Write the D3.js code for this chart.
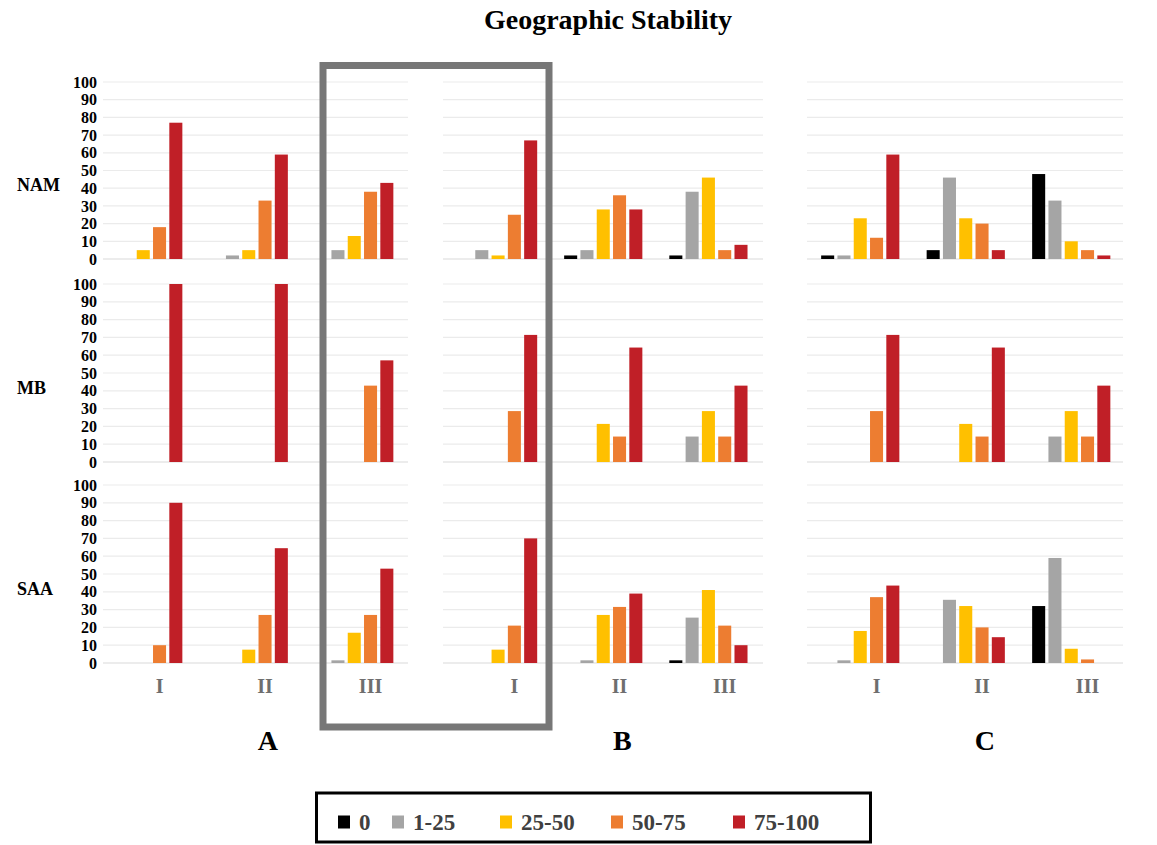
<!DOCTYPE html>
<html>
<head>
<meta charset="utf-8">
<script src="https://cdn.jsdelivr.net/npm/d3@7"></script>
<style>
  body { margin: 0; background: #fff; }
  text { font-family: "Liberation Serif", "Times New Roman", serif; font-weight: bold; }
</style>
</head>
<body>
<div id="chart"></div>
<script>
// categories
const rowNames = ["NAM", "MB", "SAA"];
const panelNames = ["A", "B", "C"];
const periods = ["I", "II", "III"];
const classes = ["0", "1-25", "25-50", "50-75", "75-100"];
const yTicks = [0, 10, 20, 30, 40, 50, 60, 70, 80, 90, 100];

// values: 9 groups per row (A-I, A-II, A-III, B-I ... C-III), one value per class
const valuesNAM = [
  [0, 0, 5, 18, 77], [0, 2, 5, 33, 59], [0, 5, 13, 38, 43],
  [0, 5, 2, 25, 67], [2, 5, 28, 36, 28], [2, 38, 46, 5, 8],
  [2, 2, 23, 12, 59], [5, 46, 23, 20, 5], [48, 33, 10, 5, 2]
];
const valuesMB = [
  [0, 0, 0, 0, 100], [0, 0, 0, 0, 100], [0, 0, 0, 42.9, 57.1],
  [0, 0, 0, 28.6, 71.4], [0, 0, 21.4, 14.3, 64.3], [0, 14.3, 28.6, 14.3, 42.9],
  [0, 0, 0, 28.6, 71.4], [0, 0, 21.4, 14.3, 64.3], [0, 14.3, 28.6, 14.3, 42.9]
];
const valuesSAA = [
  [0, 0, 0, 10, 90], [0, 0, 7.5, 27, 64.5], [0, 1.5, 17, 27, 53],
  [0, 0, 7.5, 21, 70], [0, 1.5, 27, 31.5, 39], [1.5, 25.5, 41, 21, 10],
  [0, 1.5, 18, 37, 43.5], [0, 35.5, 32, 20, 14.5], [32, 59, 8, 2, 0]
];
const rowValues = [valuesNAM, valuesMB, valuesSAA];

const colors = ["#000000", "#a5a5a5", "#ffc000", "#ed7d31", "#c01f27"];

// layout
const width = 1157, height = 845;
const rowRanges = [[259, 82], [462, 284], [663, 485]];
const panelRanges = [[90.5, 407], [445.5, 761], [807.5, 1124]];
const gridRanges = [[103, 408], [443, 763], [807, 1123]];
const legendX = [338, 392, 500, 611, 733];

const svg = d3.select("#chart")
    .append("svg")
    .attr("width", width)
    .attr("height", height);

svg.append("text")
    .attr("x", 608)
    .attr("y", 29)
    .attr("text-anchor", "middle")
    .style("font-size", "28px")
    .text("Geographic Stability");

const color = d3.scaleOrdinal().domain(classes).range(colors);

const xPanels = panelRanges.map(r => d3.scaleBand().domain(periods).range(r));
const xInner = d3.scaleBand()
    .domain(classes)
    .range([-39.1, 39.1])
    .paddingInner(0.2);

rowNames.forEach(function(row, ri) {
    const y = d3.scaleLinear().domain([0, 100]).range(rowRanges[ri]);
    const g = svg.append("g");

    // gridlines
    gridRanges.forEach(function(gr) {
        g.selectAll(null)
            .data(yTicks)
            .enter().append("line")
            .attr("x1", gr[0])
            .attr("x2", gr[1])
            .attr("y1", d => y(d))
            .attr("y2", d => y(d))
            .style("stroke", d => d == 0 ? "#d9d9d9" : "#ebebeb")
            .style("stroke-width", 1.2);
    });

    // y axis, only on the left
    const ax = g.append("g")
        .attr("transform", "translate(97,0)")
        .attr("font-family", null)
        .call(d3.axisLeft(y).tickValues(yTicks).tickSize(0).tickPadding(0));
    ax.attr("font-family", "Liberation Serif, Times New Roman, serif");
    ax.select(".domain").remove();
    ax.selectAll("text")
        .style("font-weight", "bold")
        .style("font-size", "16px")
        .style("fill", "#000");

    g.append("text")
        .attr("x", 17)
        .attr("y", y(42))
        .attr("dy", "0.35em")
        .style("font-size", "18px")
        .text(row);

    // bars
    const groups = [];
    panelNames.forEach(function(p, pi) {
        periods.forEach(function(per, qi) {
            groups.push({panel: pi, period: per, values: rowValues[ri][pi * 3 + qi]});
        });
    });

    groups.forEach(function(gr) {
        const x = xPanels[gr.panel];
        const cx = x(gr.period) + x.bandwidth() / 2;
        g.selectAll(null)
            .data(gr.values.map((v, i) => ({cls: classes[i], value: v})).filter(d => d.value > 0))
            .enter().append("rect")
            .attr("x", d => cx + xInner(d.cls))
            .attr("width", xInner.bandwidth())
            .attr("y", d => y(d.value))
            .attr("height", d => y(0) - y(d.value))
            .style("fill", d => color(d.cls));
    });
});

// period labels under last row, and panel letters
xPanels.forEach(function(x, pi) {
    svg.selectAll(null)
        .data(periods)
        .enter().append("text")
        .attr("x", d => x(d) + x.bandwidth() / 2 + xInner("50-75") + xInner.bandwidth() / 2)
        .attr("y", 693)
        .attr("text-anchor", "middle")
        .style("font-size", "20px")
        .style("fill", "#6e6e6e")
        .text(d => d);

    svg.append("text")
        .attr("x", x("II") + x.bandwidth() / 2 + 19)
        .attr("y", 750)
        .attr("text-anchor", "middle")
        .style("font-size", "28px")
        .text(panelNames[pi]);
});

// highlight box
svg.append("rect")
    .attr("x", 323)
    .attr("y", 65.5)
    .attr("width", 226)
    .attr("height", 661.5)
    .style("fill", "none")
    .style("stroke", "#777")
    .style("stroke-width", 7);

// legend
svg.append("rect")
    .attr("x", 316.5)
    .attr("y", 793)
    .attr("width", 554)
    .attr("height", 49)
    .style("fill", "none")
    .style("stroke", "#000")
    .style("stroke-width", 3);

const leg = svg.selectAll(".leg")
    .data(classes)
    .enter().append("g")
    .attr("class", "leg")
    .attr("transform", (d, i) => `translate(${legendX[i]}, 822)`);

leg.append("rect")
    .attr("x", 0)
    .attr("y", -6.5)
    .attr("width", 12)
    .attr("height", 13)
    .style("fill", d => color(d));

leg.append("text")
    .attr("x", 21)
    .attr("y", 7.5)
    .style("font-size", "23px")
    .style("fill", "#404040")
    .text(d => d);
</script>
</body>
</html>
